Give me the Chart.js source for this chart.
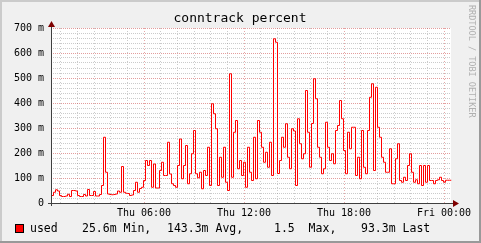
<!DOCTYPE html>
<html>
<head>
<meta charset="utf-8">
<script src="https://cdn.jsdelivr.net/npm/chart.js@4.4.0/dist/chart.umd.min.js"></script>
<style>
  body { margin: 0; background: #f0f0f0; }
  canvas { display: block; }
</style>
</head>
<body>
<canvas id="ourChart" width="481" height="243"></canvas>
<script>
// conntrack "used", in milli-percent, one value per 7.2 min step
var usedValues = [
    38, 32, 45, 55, 50, 32, 28, 28, 30, 37,
    28, 52, 52, 50, 32, 28, 28, 36, 30, 56,
    32, 32, 48, 30, 30, 36, 72, 265, 125, 38,
    36, 35, 36, 38, 50, 45, 148, 45, 41, 40,
    32, 34, 52, 85, 45, 60, 65, 92, 172, 152,
    172, 65, 158, 62, 62, 132, 165, 112, 112, 245,
    118, 79, 72, 65, 152, 258, 99, 152, 232, 79,
    119, 199, 292, 119, 103, 125, 59, 132, 112, 225,
    72, 399, 359, 299, 72, 185, 105, 225, 85, 52,
    519, 105, 285, 332, 139, 172, 112, 165, 65, 225,
    125, 92, 265, 99, 332, 285, 225, 165, 205, 145,
    245, 112, 659, 645, 120, 172, 265, 225, 319, 185,
    139, 299, 290, 72, 339, 239, 179, 199, 452, 285,
    145, 320, 499, 419, 225, 185, 119, 139, 325, 225,
    172, 199, 159, 292, 312, 412, 339, 212, 119, 285,
    219, 305, 305, 112, 185, 99, 292, 145, 119, 292,
    425, 479, 132, 465, 305, 265, 185, 165, 125, 125,
    219, 79, 79, 179, 239, 92, 85, 105, 92, 152,
    199, 125, 85, 95, 79, 152, 72, 152, 85, 152,
    92, 92, 79, 92, 95, 105, 92, 85, 93, 93
];
var startHour = 0.42;   // hours after Thu 00:00
var stepHours = 0.12;
var hourLabels = { 6: "Thu 06:00", 12: "Thu 12:00", 18: "Thu 18:00", 24: "Fri 00:00" };
var legendName = "used";
var legendStats = ["25.6m Min,", "143.3m Avg,", "1.5  Max,", "93.3m Last"];

var mono = "'DejaVu Sans Mono', monospace";

var points = usedValues.map(function (v, i) {
    return { x: startHour + i * stepHours, y: v };
});
points.push({ x: startHour + usedValues.length * stepHours, y: usedValues[usedValues.length - 1] });

var rrdFrame = {
    id: 'rrdFrame',
    beforeDraw: function (chart) {
        var ctx = chart.ctx, a = chart.chartArea;
        ctx.save();
        ctx.fillStyle = '#f0f0f0';
        ctx.fillRect(0, 0, chart.width, chart.height);
        ctx.fillStyle = '#ffffff';
        ctx.fillRect(a.left, a.top, a.right - a.left, a.bottom - a.top);
        // shaded frame
        ctx.fillStyle = '#cbcbcb';
        ctx.fillRect(0, 0, chart.width, 2);
        ctx.fillRect(0, 0, 2, chart.height);
        ctx.fillStyle = '#999999';
        ctx.fillRect(0, chart.height - 2, chart.width, 2);
        ctx.fillRect(chart.width - 2, 0, 2, chart.height);
        ctx.restore();
    },
    // half-pixel shift so the 1px step line stays crisp
    beforeDatasetsDraw: function (chart) {
        chart.ctx.save();
        chart.ctx.translate(0.5, 0.5);
    },
    afterDatasetsDraw: function (chart) {
        chart.ctx.restore();
    },
    afterDraw: function (chart) {
        var ctx = chart.ctx, a = chart.chartArea;
        ctx.save();
        // axes
        ctx.strokeStyle = '#404040';
        ctx.lineWidth = 1;
        ctx.beginPath();
        ctx.moveTo(a.left + 0.5, a.bottom + 3);
        ctx.lineTo(a.left + 0.5, a.top - 4);
        ctx.moveTo(a.left - 3, a.bottom + 0.5);
        ctx.lineTo(a.right + 4, a.bottom + 0.5);
        ctx.stroke();
        // arrows
        ctx.fillStyle = '#7f0000';
        ctx.beginPath();
        ctx.moveTo(a.left - 3, a.top - 1);
        ctx.lineTo(a.left + 4, a.top - 1);
        ctx.lineTo(a.left + 0.5, a.top - 7);
        ctx.closePath();
        ctx.fill();
        ctx.beginPath();
        ctx.moveTo(a.right + 2, a.bottom - 3);
        ctx.lineTo(a.right + 2, a.bottom + 4);
        ctx.lineTo(a.right + 8, a.bottom + 0.5);
        ctx.closePath();
        ctx.fill();
        // title
        ctx.fillStyle = '#000';
        ctx.font = '13px ' + mono;
        ctx.textAlign = 'center';
        ctx.textBaseline = 'middle';
        ctx.fillText('conntrack percent', 240, 19);
        // legend
        ctx.fillStyle = '#ff0000';
        ctx.fillRect(15, 224, 9, 9);
        ctx.strokeStyle = '#000';
        ctx.strokeRect(15.5, 224.5, 8, 8);
        ctx.fillStyle = '#000';
        ctx.font = '11.5px ' + mono;
        ctx.textAlign = 'left';
        ctx.fillText(legendName, 30, 229);
        var statX = [82, 167, 274, 361];
        legendStats.forEach(function (s, i) { ctx.fillText(s, statX[i], 229); });
        // side text
        ctx.fillStyle = '#b0b0b0';
        ctx.font = '8.5px ' + mono;
        ctx.translate(471, 5);
        ctx.rotate(Math.PI / 2);
        ctx.textBaseline = 'middle';
        ctx.fillText('RRDTOOL / TOBI OETIKER', 0, 0);
        ctx.restore();
    }
};

var ourChart = new Chart(document.getElementById('ourChart'), {
    type: 'line',
    data: {
        datasets: [
            {
                label: legendName,
                data: points,
                stepped: 'after',
                borderColor: '#ff0000',
                borderWidth: 1,
                pointRadius: 0,
                fill: false
            }
        ]
    },
    options: {
        responsive: false,
        animation: false,
        layout: { padding: { left: 0, right: 30, top: 28, bottom: 0 } },
        plugins: {
            legend: { display: false },
            tooltip: { enabled: false }
        },
        scales: {
            x: {
                type: 'linear',
                min: startHour,
                max: startHour + usedValues.length * stepHours,
                afterFit: function (s) { s.height = 40; },
                afterBuildTicks: function (s) {
                    var t = [];
                    for (var h = 1; h <= 24; h++) t.push({ value: h });
                    s.ticks = t;
                },
                border: { display: false, dash: [1, 2] },
                grid: {
                    drawTicks: false,
                    color: function (c) {
                        return c.tick && c.tick.value % 6 === 0 ? 'rgba(200,60,60,0.45)' : 'rgba(140,140,140,0.45)';
                    }
                },
                ticks: {
                    autoSkip: false,
                    maxRotation: 0,
                    padding: 4,
                    color: '#000',
                    font: { family: mono, size: 10 },
                    callback: function (v) { return hourLabels[v] || ''; }
                }
            },
            y: {
                min: 0,
                max: 700,
                afterFit: function (s) { s.width = 51; },
                border: { display: false, dash: [1, 1] },
                grid: {
                    drawTicks: false,
                    color: function (c) {
                        return c.tick && c.tick.value % 100 === 0 ? 'rgba(200,60,60,0.5)' : 'rgba(140,140,140,0.45)';
                    }
                },
                ticks: {
                    stepSize: 20,
                    autoSkip: false,
                    padding: 7,
                    color: '#000',
                    font: { family: mono, size: 10 },
                    callback: function (v) {
                        if (v % 100 !== 0) return '';
                        return v === 0 ? '0' : v + ' m';
                    }
                }
            }
        }
    },
    plugins: [rrdFrame]
});
</script>
</body>
</html>
